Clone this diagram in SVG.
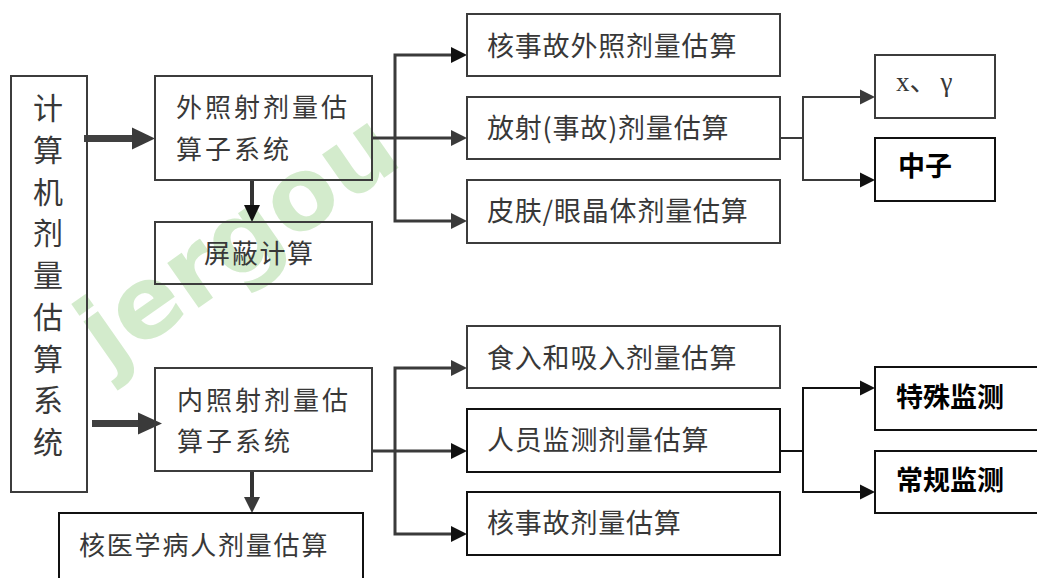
<svg xmlns="http://www.w3.org/2000/svg" width="1037" height="578" viewBox="0 0 1037 578">
<style>
.bg{fill:#ffffff}
.wm{font-family:"DejaVu Sans",sans-serif;font-weight:bold;font-size:100px;fill:#d3ebcc}
.box{fill:none;stroke:#3c3c3c;stroke-width:2}
.boxk{fill:none;stroke:#111;stroke-width:2}
.t{font-family:"Noto Sans CJK SC",sans-serif;font-size:27px;fill:#383838;letter-spacing:0.8px}
.ts{font-family:"Noto Sans CJK SC",sans-serif;font-size:26px;fill:#383838;letter-spacing:3px}
.tv{font-family:"Noto Sans CJK SC",sans-serif;font-size:30px;fill:#383838;text-anchor:middle}
.tb{font-family:"Noto Sans CJK SC",sans-serif;font-size:27px;font-weight:bold;fill:#000}
.tx{font-family:"Liberation Serif","Noto Sans CJK SC",serif;font-size:27px;fill:#383838}
.ln{fill:none;stroke:#3a3a3a;stroke-width:3}
.lnt{fill:none;stroke:#3a3a3a;stroke-width:2}
.lnk{fill:none;stroke:#111;stroke-width:2}
.thick{fill:none;stroke:#404040;stroke-width:7}
.dn{fill:none;stroke:#333;stroke-width:4}
.ah{fill:#3a3a3a}
.ahk{fill:#111}
</style>
<rect class="bg" x="0" y="0" width="1037" height="578"/>
<g id="watermark">
<text class="wm" transform="translate(108,371) rotate(-35)">jergou</text>
</g>
<g id="connectors">
<line class="thick" x1="84" y1="138.5" x2="133" y2="138.5"/>
<polygon class="ah" points="132,127.5 155,138.5 132,149.5"/>
<line class="thick" x1="92" y1="423.5" x2="139" y2="423.5"/>
<polygon class="ah" points="138,412.5 162,423.5 138,434.5"/>
<line class="dn" x1="252" y1="180" x2="252" y2="206"/>
<polygon class="ahk" points="244,205 260,205 252,222"/>
<line class="dn" x1="252" y1="471" x2="252" y2="498"/>
<polygon class="ah" points="244,497 260,497 252,513"/>
<polyline class="ln" points="372,138 395,138"/>
<polyline class="ln" points="452,55 395,55 395,221 452,221"/>
<line class="ln" x1="395" y1="138" x2="452" y2="138"/>
<polygon class="ahk" points="451,47 467,55 451,63"/>
<polygon class="ah" points="451,130 467,138 451,146"/>
<polygon class="ah" points="451,213 467,221 451,229"/>
<polyline class="ln" points="372,451 395,451"/>
<polyline class="ln" points="452,368 395,368 395,534 452,534"/>
<line class="ln" x1="395" y1="451" x2="452" y2="451"/>
<polygon class="ah" points="451,360 467,368 451,376"/>
<polygon class="ahk" points="451,443 467,451 451,459"/>
<polygon class="ahk" points="451,526 467,534 451,542"/>
<polyline class="lnt" points="780,138 803,138"/>
<polyline class="lnt" points="861,97 803,97 803,180 861,180"/>
<polygon class="ah" points="860,89.5 875,97 860,104.5"/>
<polygon class="ahk" points="860,172.5 875,180 860,187.5"/>
<polyline class="lnk" points="780,451 803,451"/>
<polyline class="lnk" points="861,388 803,388 803,492 861,492"/>
<polygon class="ahk" points="860,380.5 875,388 860,395.5"/>
<polygon class="ahk" points="860,484.5 875,492 860,499.5"/>
</g>
<g id="n-system">
<rect class="box" x="11" y="76" width="76" height="416"/>
<text class="tv" x="48" y="119">计</text>
<text class="tv" x="48" y="161">算</text>
<text class="tv" x="48" y="203">机</text>
<text class="tv" x="48" y="244">剂</text>
<text class="tv" x="48" y="286">量</text>
<text class="tv" x="48" y="328">估</text>
<text class="tv" x="48" y="370">算</text>
<text class="tv" x="48" y="411">系</text>
<text class="tv" x="48" y="453">统</text>
</g>
<g id="n-external">
<rect class="box" x="155" y="76" width="217" height="104"/>
<text class="ts" x="176" y="117">外照射剂量估</text>
<text class="ts" x="176" y="159">算子系统</text>
</g>
<g id="n-shield">
<rect class="box" x="155" y="222" width="217" height="62"/>
<text class="ts" x="204" y="263" style="letter-spacing:1.7px">屏蔽计算</text>
</g>
<g id="n-internal">
<rect class="box" x="155" y="368" width="217" height="103"/>
<text class="ts" x="177" y="410">内照射剂量估</text>
<text class="ts" x="177" y="451">算子系统</text>
</g>
<g id="n-nuclear-med">
<rect class="boxk" x="59" y="513" width="304" height="72"/>
<text class="ts" x="79" y="555" style="letter-spacing:1.8px">核医学病人剂量估算</text>
</g>
<g id="n-accident-ext">
<rect class="box" x="467" y="14" width="313" height="62"/>
<text class="t" x="487" y="56">核事故外照剂量估算</text>
</g>
<g id="n-radiation">
<rect class="box" x="467" y="97" width="313" height="62"/>
<text class="t" x="487" y="138">放射(事故)剂量估算</text>
</g>
<g id="n-skin">
<rect class="box" x="467" y="180" width="313" height="63"/>
<text class="t" x="487" y="221">皮肤/眼晶体剂量估算</text>
</g>
<g id="n-xgamma">
<rect class="box" x="875" y="55" width="120" height="63"/>
<text class="tx" x="896" y="91">x、<tspan dx="4">γ</tspan></text>
</g>
<g id="n-neutron">
<rect class="boxk" x="875" y="138" width="120" height="63"/>
<text class="tb" x="898" y="176">中子</text>
</g>
<g id="n-ingest">
<rect class="box" x="467" y="326" width="313" height="62"/>
<text class="t" x="487" y="368">食入和吸入剂量估算</text>
</g>
<g id="n-personnel">
<rect class="boxk" x="467" y="409" width="313" height="63"/>
<text class="t" x="487" y="450">人员监测剂量估算</text>
</g>
<g id="n-accident">
<rect class="boxk" x="467" y="492" width="313" height="63"/>
<text class="t" x="487" y="533">核事故剂量估算</text>
</g>
<g id="n-special">
<rect class="boxk" x="875" y="367" width="170" height="63"/>
<text class="tb" x="896" y="407">特殊监测</text>
</g>
<g id="n-routine">
<rect class="boxk" x="875" y="451" width="170" height="62"/>
<text class="tb" x="896" y="490">常规监测</text>
</g>
</svg>
